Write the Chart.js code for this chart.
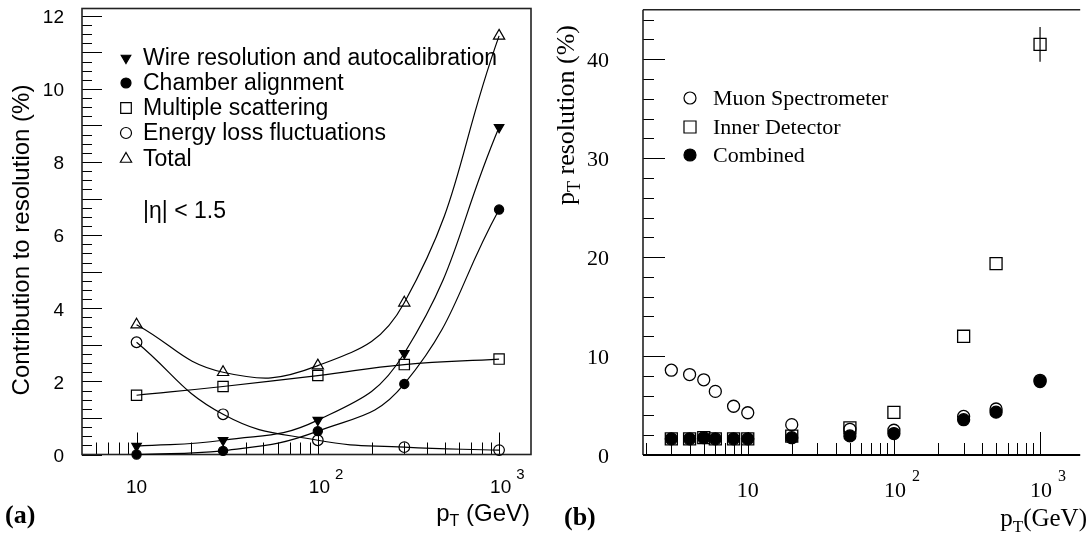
<!DOCTYPE html>
<html><head><meta charset="utf-8">
<script src="https://cdn.jsdelivr.net/npm/chart.js@4.4.1/dist/chart.umd.min.js"></script>
<style>
html,body{margin:0;padding:0;background:#fff;overflow:hidden;}
#wrap{position:relative;width:1088px;height:533px;overflow:hidden;}
#a{position:absolute;left:0;top:0;}
#b{position:absolute;left:544px;top:0;}
</style></head><body>
<div id="wrap"><canvas id="a" width="544" height="533"></canvas><canvas id="b" width="544" height="533"></canvas></div>
<script>
// ---------- Panel (a) data ----------
const ptA = [10, 30, 100, 300, 1000];
const wireA = [0.23, 0.39, 0.94, 2.77, 8.95];
const chamberA = [0.0, 0.10, 0.64, 1.93, 6.70];
const multScatA = [1.62, 1.86, 2.16, 2.46, 2.61];
const elossA = [3.07, 1.10, 0.39, 0.20, 0.12];
const totalA = [3.55, 2.25, 2.43, 4.15, 11.45];
const namesA = ['Wire resolution and autocalibration', 'Chamber alignment', 'Multiple scattering', 'Energy loss fluctuations', 'Total'];
const yLabelsA = [0, 2, 4, 6, 8, 10, 12];
const xLabelsA = [[10, '10', ''], [100, '10', '2'], [1000, '10', '3']];

// ---------- Panel (b) data ----------
const ptB = [3, 4, 5, 6, 8, 10, 20, 50, 100, 300, 500, 1000];
const muonB = [8.57, 8.13, 7.6, 6.43, 4.93, 4.27, 3.07, 2.6, 2.5, 3.9, 4.65, 7.55];
const innerB = [1.63, 1.63, 1.75, 1.63, 1.63, 1.63, 1.9, 2.75, 4.3, 12.0, 19.35, 41.5];
const innerErrB = [0, 0, 0, 0, 0, 0, 0, 0, 0, 0, 0, 1.75];
const combB = [1.63, 1.63, 1.75, 1.63, 1.63, 1.63, 1.75, 1.93, 2.17, 3.57, 4.33, 7.43];
const namesB = ['Muon Spectrometer', 'Inner Detector', 'Combined'];
const yLabelsB = [0, 10, 20, 30, 40];
const xLabelsB = [[10, '10', ''], [100, '10', '2'], [1000, '10', '3']];

const SANS = '"Liberation Sans", Arial, Helvetica, sans-serif';
const SERIF = '"Liberation Serif", "Times New Roman", Times, serif';
const INK = '#000';

function pts(xs, ys) { return xs.map((x, i) => ({ x: x, y: ys[i] })); }

function line(ctx, x1, y1, x2, y2) { ctx.beginPath(); ctx.moveTo(x1, y1); ctx.lineTo(x2, y2); ctx.stroke(); }

function drawMarker(ctx, style, x, y, r, filled) {
  ctx.beginPath();
  if (style === 'circle') { ctx.arc(x, y, r, 0, Math.PI * 2); }
  else if (style === 'rect') { const s = r * Math.SQRT1_2; ctx.rect(x - s, y - s, 2 * s, 2 * s); }
  else if (style === 'tri' || style === 'tridown') {
    const sgn = style === 'tri' ? 1 : -1;
    for (let k = 0; k < 3; k++) {
      const a = k * 2 * Math.PI / 3;
      const px = x + Math.sin(a) * r, py = y - sgn * Math.cos(a) * r;
      k ? ctx.lineTo(px, py) : ctx.moveTo(px, py);
    }
    ctx.closePath();
  }
  if (filled) { ctx.fillStyle = INK; ctx.fill(); }
  ctx.lineWidth = 1.2; ctx.strokeStyle = INK; ctx.stroke();
}

function drawPowLabel(ctx, x, y, base, exp, font, supFont, leftOff, supDx, supDy) {
  ctx.textBaseline = 'alphabetic';
  if (!exp) { ctx.font = font; ctx.textAlign = 'center'; ctx.fillText(base, x, y); return; }
  ctx.font = font; ctx.textAlign = 'left';
  const w = ctx.measureText(base).width;
  ctx.fillText(base, x - leftOff, y);
  ctx.font = supFont; ctx.fillText(exp, x - leftOff + w + supDx, y - supDy);
}

function drawPT(ctx, xRight, y, font, subFont, rest, subDy) {
  ctx.textBaseline = 'alphabetic'; ctx.textAlign = 'left';
  ctx.font = font; const wp = ctx.measureText('p').width; const wr = ctx.measureText(rest).width;
  ctx.font = subFont; const wt = ctx.measureText('T').width;
  let x0 = xRight - wp - wt - wr;
  ctx.font = font; ctx.fillText('p', x0, y);
  ctx.font = subFont; ctx.fillText('T', x0 + wp, y + subDy);
  ctx.font = font; ctx.fillText(rest, x0 + wp + wt, y);
}

// ---------- Panel (a) frame / ticks / text plugin ----------
const frameA = {
  id: 'frameA',
  beforeDatasetsDraw(chart) {
    const { ctx, chartArea: { left, right, top, bottom }, scales: { x, y } } = chart;
    ctx.save();
    ctx.strokeStyle = INK; ctx.lineWidth = 1;
    for (let k = 0; k * 0.25 <= y.max + 1e-9; k++) {
      const v = k * 0.25, py = Math.round(y.getPixelForValue(v)) + 0.5;
      line(ctx, left, py, left + (k % 4 === 0 ? 20 : 10), py);
    }
    for (let d = 1; d <= 1000; d *= 10) for (let m = 1; m <= 9; m++) {
      const v = m * d; if (v <= x.min || v >= x.max) continue;
      const px = Math.round(x.getPixelForValue(v)) + 0.5;
      line(ctx, px, bottom, px, bottom - (m === 1 ? 22 : 12));
    }
    ctx.lineWidth = 1.6; ctx.strokeStyle = '#222';
    ctx.strokeRect(left, top, right - left, bottom - top);
    ctx.restore();
  },
  afterDraw(chart) {
    const { ctx, chartArea: { left, right, top, bottom }, scales: { x, y } } = chart;
    ctx.save(); ctx.fillStyle = INK;
    ctx.font = '19px ' + SANS; ctx.textAlign = 'right'; ctx.textBaseline = 'middle';
    yLabelsA.forEach(v => ctx.fillText(String(v), left - 18, y.getPixelForValue(v) + 2));
    xLabelsA.forEach(([v, b, e]) => drawPowLabel(ctx, x.getPixelForValue(v), 493, b, e, '19px ' + SANS, '15px ' + SANS, 9, 5, 14));
    ctx.save(); ctx.translate(29, 240); ctx.rotate(-Math.PI / 2);
    ctx.font = '24px ' + SANS; ctx.textAlign = 'center'; ctx.textBaseline = 'alphabetic';
    ctx.fillText('Contribution to resolution (%)', 0, 0); ctx.restore();
    drawPT(ctx, 530, 521, '24px ' + SANS, '16px ' + SANS, ' (GeV)', 5);
    ctx.font = 'bold 26px ' + SERIF; ctx.textAlign = 'left'; ctx.fillText('(a)', 5, 523);
    const lx = 126, tx = 143, rows = [58, 83, 108, 133, 159];
    const mk = [['tridown', 5.5, true], ['circle', 5, true], ['rect', 7.5, false], ['circle', 5.5, false], ['tri', 6.5, false]];
    ctx.font = '23px ' + SANS; ctx.textAlign = 'left'; ctx.textBaseline = 'middle';
    namesA.forEach((n, i) => {
      drawMarker(ctx, mk[i][0], lx, rows[i], mk[i][1], mk[i][2]);
      ctx.fillStyle = INK; ctx.fillText(n, tx, rows[i] + 1);
    });
    ctx.fillText('|\u03b7| < 1.5', tx, 212);
    ctx.restore();
  }
};

function lineDS(label, data, style, r, filled, rot) {
  return {
    label, data, showLine: true, tension: 0.45, clip: false,
    borderColor: INK, borderWidth: 1.2,
    pointStyle: style, pointRadius: r, pointRotation: rot || 0,
    pointBorderColor: INK, pointBorderWidth: 1.2,
    pointBackgroundColor: filled ? INK : 'rgba(0,0,0,0)',
    backgroundColor: 'rgba(0,0,0,0)'
  };
}

new Chart(document.getElementById('a'), {
  type: 'scatter',
  data: {
    datasets: [
      lineDS(namesA[3], pts(ptA, elossA), 'circle', 5.3, false),
      lineDS(namesA[2], pts(ptA, multScatA), 'rect', 7.3, false),
      lineDS(namesA[1], pts(ptA, chamberA), 'circle', 4.6, true),
      lineDS(namesA[0], pts(ptA, wireA), 'triangle', 5.5, true, 180),
      lineDS(namesA[4], pts(ptA, totalA), 'triangle', 6.5, false)
    ]
  },
  options: {
    responsive: false, animation: false, devicePixelRatio: 1,
    layout: { padding: { left: 82, right: 13, top: 5, bottom: 78.5 } },
    plugins: { legend: { display: false }, tooltip: { enabled: false } },
    scales: {
      x: { type: 'logarithmic', min: 5, max: 1500, display: false },
      y: { type: 'linear', min: 0, max: 12.2, display: false }
    }
  },
  plugins: [frameA]
});

// ---------- Panel (b) ----------
const frameB = {
  id: 'frameB',
  beforeDatasetsDraw(chart) {
    const { ctx, chartArea: { left, right, top, bottom }, scales: { x, y } } = chart;
    ctx.save(); ctx.strokeStyle = INK; ctx.lineWidth = 1;
    for (let v = 0; v <= y.max + 1e-9; v += 2) {
      const py = Math.round(y.getPixelForValue(v)) + 0.5;
      line(ctx, left, py, left + (v % 10 === 0 ? 22 : 11), py);
    }
    for (let d = 1; d <= 1000; d *= 10) for (let m = 1; m <= 9; m++) {
      const v = m * d; if (v <= x.min || v >= x.max) continue;
      const px = Math.round(x.getPixelForValue(v)) + 0.5;
      line(ctx, px, bottom, px, bottom - (m === 1 ? 23 : 12));
    }
    ctx.lineWidth = 1.6; ctx.strokeStyle = '#222';
    line(ctx, left, top, right + 2, top);
    line(ctx, left, top, left, bottom);
    ctx.lineWidth = 1.8; ctx.strokeStyle = INK;
    line(ctx, left, bottom, right + 2, bottom);
    ctx.lineWidth = 1.2;
    ptB.forEach((v, i) => {
      if (!innerErrB[i]) return;
      const px = x.getPixelForValue(v);
      line(ctx, px, y.getPixelForValue(innerB[i] + innerErrB[i]), px, y.getPixelForValue(innerB[i] - innerErrB[i]));
    });
    ctx.restore();
  },
  afterDraw(chart) {
    const { ctx, chartArea: { left, right, top, bottom }, scales: { x, y } } = chart;
    ctx.save(); ctx.fillStyle = INK;
    ctx.font = '22px ' + SERIF; ctx.textAlign = 'right'; ctx.textBaseline = 'middle';
    yLabelsB.forEach(v => ctx.fillText(String(v), left - 34, y.getPixelForValue(v) + 2));
    xLabelsB.forEach(([v, b, e]) => drawPowLabel(ctx, x.getPixelForValue(v), 497, b, e, '22px ' + SERIF, '16px ' + SERIF, 10, 6, 16));
    ctx.save(); ctx.translate(30, 115); ctx.rotate(-Math.PI / 2);
    ctx.textBaseline = 'alphabetic'; ctx.textAlign = 'left';
    ctx.font = '26px ' + SERIF; const wp = ctx.measureText('p').width;
    ctx.font = '18px ' + SERIF; const wt = ctx.measureText('T').width;
    ctx.font = '26px ' + SERIF; const wr = ctx.measureText(' resolution (%)').width;
    const x0 = -(wp + wt + wr) / 2;
    ctx.fillText('p', x0, 0); ctx.font = '18px ' + SERIF; ctx.fillText('T', x0 + wp, 6);
    ctx.font = '26px ' + SERIF; ctx.fillText(' resolution (%)', x0 + wp + wt, 0);
    ctx.restore();
    drawPT(ctx, 543, 526, '25px ' + SERIF, '17px ' + SERIF, '(GeV)', 6);
    ctx.font = 'bold 26px ' + SERIF; ctx.textAlign = 'left'; ctx.textBaseline = 'alphabetic';
    ctx.fillText('(b)', 20, 525);
    const lx = 146, tx = 169, rows = [98, 127, 155];
    const mk = [['circle', 6, false], ['rect', 8.5, false], ['circle', 6, true]];
    ctx.font = '22px ' + SERIF; ctx.textAlign = 'left'; ctx.textBaseline = 'middle';
    namesB.forEach((n, i) => {
      drawMarker(ctx, mk[i][0], lx, rows[i], mk[i][1], mk[i][2]);
      ctx.fillStyle = INK; ctx.fillText(n, tx, rows[i] + 1);
    });
    ctx.restore();
  }
};

function ptDS(label, data, style, r, filled) {
  return {
    label, data, showLine: false, clip: false,
    pointStyle: style, pointRadius: r,
    pointBorderColor: INK, pointBorderWidth: 1.3,
    pointBackgroundColor: filled ? INK : 'rgba(0,0,0,0)'
  };
}

new Chart(document.getElementById('b'), {
  type: 'scatter',
  data: {
    datasets: [
      ptDS(namesB[0], pts(ptB, muonB), 'circle', 6, false),
      ptDS(namesB[1], pts(ptB, innerB), 'rect', 8.5, false),
      ptDS(namesB[2], pts(ptB, combB), 'circle', 6, true)
    ]
  },
  options: {
    responsive: false, animation: false, devicePixelRatio: 1,
    layout: { padding: { left: 99, right: 0, top: 5, bottom: 78 } },
    plugins: { legend: { display: false }, tooltip: { enabled: false } },
    scales: {
      x: { type: 'logarithmic', min: 1.92, max: 1824, display: false },
      y: { type: 'linear', min: 0, max: 45, display: false }
    }
  },
  plugins: [frameB]
});
</script>
</body></html>
